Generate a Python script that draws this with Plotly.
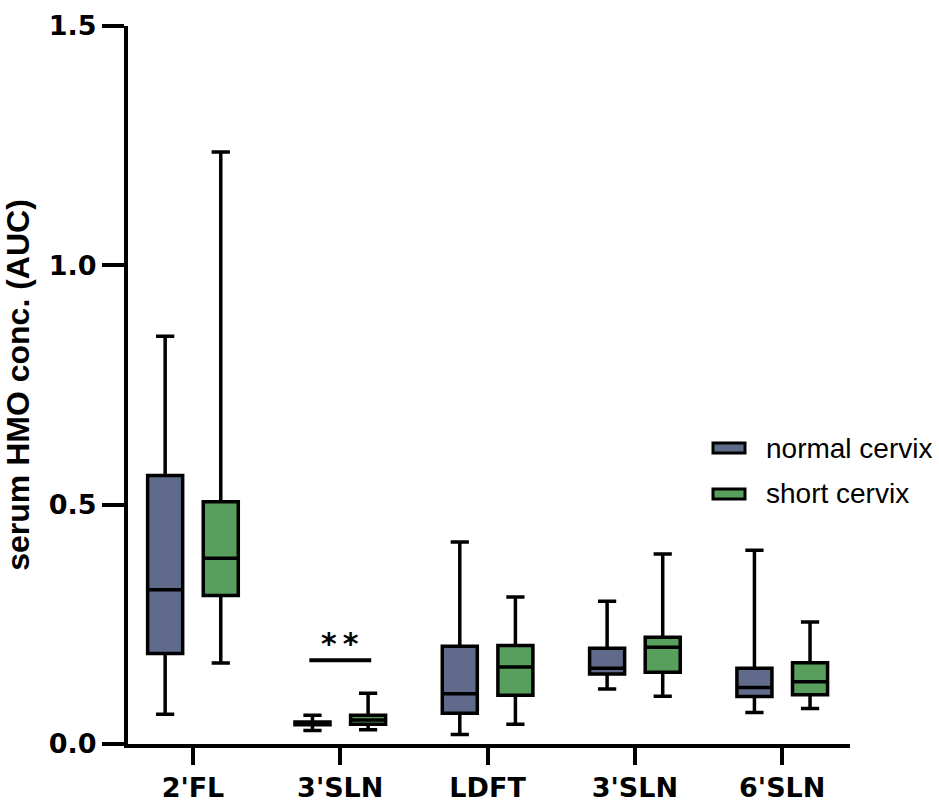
import plotly.graph_objects as go

groups = ["2'FL", "3'SLN", "LDFT", "3'SLN", "6'SLN"]
series_names = ["normal cervix", "short cervix"]

normal_lower = [0.062, 0.028, 0.020, 0.115, 0.066]
normal_q1 = [0.189, 0.040, 0.064, 0.146, 0.099]
normal_median = [0.322, 0.043, 0.105, 0.158, 0.118]
normal_q3 = [0.561, 0.046, 0.204, 0.200, 0.158]
normal_upper = [0.852, 0.060, 0.422, 0.298, 0.405]

short_lower = [0.169, 0.030, 0.041, 0.100, 0.074]
short_q1 = [0.310, 0.041, 0.102, 0.150, 0.103]
short_median = [0.388, 0.050, 0.161, 0.202, 0.130]
short_q3 = [0.506, 0.060, 0.206, 0.223, 0.170]
short_upper = [1.237, 0.106, 0.307, 0.397, 0.255]

sig_group = 1
sig_level = 0.175
sig_text = "*\u2009*"

colors = ["#606a8b", "#589e5c"]
FONT = "Liberation Sans, Arial, sans-serif"
TICKFONT = "DejaVu Sans, sans-serif"

xs = list(range(len(groups)))
fig = go.Figure()
for name, col, lo, q1, med, q3, up in [
    (series_names[0], colors[0], normal_lower, normal_q1, normal_median, normal_q3, normal_upper),
    (series_names[1], colors[1], short_lower, short_q1, short_median, short_q3, short_upper),
]:
    fig.add_trace(go.Box(
        x=xs, q1=q1, median=med, q3=q3, lowerfence=lo, upperfence=up,
        name=name, fillcolor=col, line=dict(color="black", width=3.5),
        boxpoints=False, whiskerwidth=0.52, showlegend=False,
    ))

L, R, T, B = 128, 89, 26, 61
W, H = 939, 805
pw, ph = W - L - R, H - T - B

def px(xp):
    return (xp - L) / pw

def py(yp):
    return (H - B - yp) / ph

shapes = []
annotations = []
# significance bracket
shapes.append(dict(type="line", xref="x", yref="y", x0=sig_group - 0.21, x1=sig_group + 0.21,
                   y0=sig_level, y1=sig_level, line=dict(color="black", width=4)))
annotations.append(dict(x=sig_group, y=sig_level, xref="x", yref="y", text="<b>" + sig_text + "</b>",
                        showarrow=False, yanchor="bottom", yshift=-3,
                        font=dict(family=TICKFONT, size=30, color="black")))
# custom legend
for i, (name, col) in enumerate(zip(series_names, colors)):
    cy = 448 + i * 46
    shapes.append(dict(type="rect", xref="paper", yref="paper",
                       x0=px(713), x1=px(745), y0=py(cy + 5), y1=py(cy - 5),
                       fillcolor=col, line=dict(color="black", width=3)))
    annotations.append(dict(x=px(764), y=py(cy), xref="paper", yref="paper", text=name,
                            showarrow=False, xanchor="left", yanchor="middle",
                            font=dict(family=FONT, size=28, color="black")))

fig.update_layout(
    width=W, height=H,
    margin=dict(l=L, r=R, t=T, b=B, autoexpand=False),
    paper_bgcolor="white", plot_bgcolor="white",
    boxmode="group", boxgap=0.245, boxgroupgap=0.37,
    shapes=shapes, annotations=annotations,
    font=dict(family=FONT, color="black"),
)
fig.update_xaxes(
    automargin=False,
    range=[-0.441, 4.46], tickmode="array", tickvals=xs,
    ticktext=["<b>" + g + "</b>" for g in groups],
    showline=True, linewidth=4, linecolor="black",
    ticks="outside", ticklen=17, tickwidth=4, tickcolor="black",
    tickfont=dict(family=TICKFONT, size=27, color="black"),
    showgrid=False, zeroline=False,
)
fig.update_yaxes(
    automargin=False,
    range=[0, 1.5], tickmode="linear", tick0=0, dtick=0.5, tickformat=".1f",
    showline=True, linewidth=4, linecolor="black",
    ticks="outside", ticklen=22, tickwidth=4, tickcolor="black",
    tickfont=dict(family=TICKFONT, size=27, color="black", weight="bold"),
    title=dict(text="<b>serum HMO conc. (AUC)</b>", standoff=12,
               font=dict(family=FONT, size=32, color="black")),
    showgrid=False, zeroline=False,
)
fig.write_html("out.html")
